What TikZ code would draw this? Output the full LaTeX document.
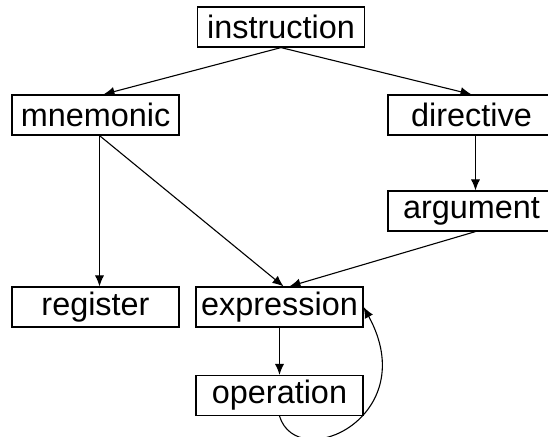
\documentclass[tikz,border=0pt]{standalone}
\usepackage{fontspec}
\setmainfont{Liberation Sans}
\usepackage{tikz}
\usetikzlibrary{
    arrows.meta,
    calc
}
\tikzset{
    box/.style={draw, line width=0.6pt, minimum width=83.5pt, minimum height=20pt, inner sep=0pt, font=\fontsize{16.2}{19}\selectfont},
    link/.style={line width=0.55pt, -{Latex[length=5.5pt, width=4.6pt]}}
}

\begin{document}
\begin{tikzpicture}[x=0.5pt, y=0.5pt]
    \useasboundingbox (0, 0) rectangle (548, -437);
    \node[box] (instruction) at (281, -27) {instruction};
    \node[box] (mnemonic) at (95.5, -115) {mnemonic};
    \node[box] (directive) at (471.5, -115) {directive};
    \node[box] (argument) at (471.5, -211) {argument};
    \node[box] (register) at (95.5, -307) {register};
    \node[box] (expression) at (279.5, -307) {expression};
    \node[box] (operation) at (279.5, -395.5) {operation};
    \draw
    (instruction.south) edge[link] ([xshift=4pt]mnemonic.north)
    (instruction.south) edge[link] (directive.north)
    ([xshift=2pt]mnemonic.south) edge[link] ([xshift=2pt]register.north)
    ([xshift=2pt]mnemonic.south) edge[link] ([xshift=2pt]expression.north)
    ([xshift=2pt]directive.south) edge[link] ([xshift=2pt]argument.north)
    ([xshift=2pt]argument.south) edge[link] ([xshift=5pt]expression.north)
    (expression.south) edge[link] (operation.north);
    \draw[link]
    (operation.south) .. controls +(18, -58) and +(60, -110) .. (expression.east);
\end{tikzpicture}
\end{document}
